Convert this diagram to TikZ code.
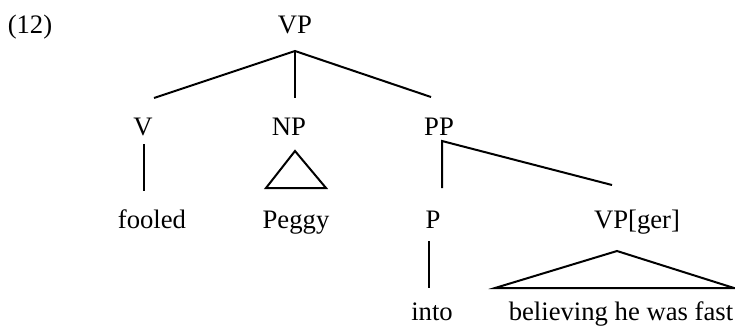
\documentclass[tikz,border=0pt]{standalone}
\usepackage{fontspec}
\setmainfont{Liberation Serif}
\begin{document}
\begin{tikzpicture}[x=0.75pt,y=-0.75pt,
  lbl/.style={anchor=base,inner sep=0pt,font=\fontsize{20}{24}\selectfont},
  branch/.style={line width=1.5pt,line join=miter}]
\useasboundingbox (0,0) rectangle (735,326);

% labels
\node[lbl] (ex) at (30,33) {(12)};
\node[lbl] (vp) at (295,33) {VP};
\node[lbl] (v) at (143,135) {V};
\node[lbl] (np) at (289,135) {NP};
\node[lbl] (pp) at (439,135) {PP};
\node[lbl] (fooled) at (152,228) {fooled};
\node[lbl] (peggy) at (296,228) {Peggy};
\node[lbl] (p) at (433,228) {P};
\node[lbl] (vpger) at (637,228) {VP[ger]};
\node[lbl] (into) at (432,320) {into};
\node[lbl] (bel) at (621,320) {believing he was fast};

% branch points
\coordinate (vpb) at (295,51);
\coordinate (vt) at (154,98);
\coordinate (npt) at (295,98);
\coordinate (ppt) at (431,97);
\coordinate (vb) at (143.5,144);
\coordinate (fooledt) at (143.5,191);
\coordinate (npa) at (295,151);
\coordinate (npl) at (266,188);
\coordinate (npr) at (326,188);
\coordinate (ppb) at (442,141);
\coordinate (pt) at (442,188);
\coordinate (vpgert) at (612,185);
\coordinate (pb) at (429,241);
\coordinate (intot) at (429,288);
\coordinate (vga) at (617,251);
\coordinate (vgl) at (495,288);
\coordinate (vgr) at (734,288);

% branches
\draw[branch] (vt) -- (vpb) -- (ppt);
\draw[branch] (vpb) -- (npt);
\draw[branch] (vb) -- (fooledt);
\draw[branch] (npa) -- (npl) -- (npr) -- cycle;
\draw[branch] (pt) -- (ppb) -- (vpgert);
\draw[branch] (pb) -- (intot);
\draw[branch] (vga) -- (vgl) -- (vgr) -- cycle;
\end{tikzpicture}
\end{document}
